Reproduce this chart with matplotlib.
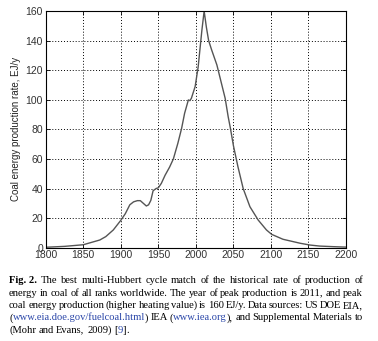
import matplotlib
matplotlib.use('Agg')
import matplotlib.pyplot as plt

# coal energy production, EJ/y (history + multi-Hubbert fit)
years = [1800, 1825, 1850, 1872, 1880, 1890, 1900, 1906, 1912, 1917, 1922, 1926,
         1930, 1934, 1937, 1940, 1943, 1947, 1950, 1954, 1959, 1965, 1970, 1976,
         1981, 1985, 1990, 1992, 1994, 1999, 2003, 2008, 2011, 2014, 2017, 2021,
         2028, 2034, 2039, 2043, 2046, 2050, 2056, 2063, 2072, 2083, 2094, 2101,
         2116, 2139, 2152, 2165, 2183, 2200]
rate = [0.3, 0.9, 2.0, 5.2, 7.5, 12, 18.5, 23, 29, 31, 31.8, 31.8,
        30, 28.2, 29, 32, 38.5, 40, 40.5, 43.5, 49, 54.5, 60, 70.6,
        80.7, 90.9, 99.9, 99.4, 101, 108.9, 122, 147, 160, 149, 140, 133.7,
        123.5, 111.2, 101, 88.6, 80.7, 69, 54.8, 40, 27.7, 18.7, 12, 9,
        5.7, 3, 1.8, 1.1, 0.7, 0.4]

xticks = list(range(1800, 2201, 50))
yticks = list(range(0, 161, 20))

blue = '#2a46a8'
caption = [
    [('Fig. 2.', 'k', 'bold'), ('The', 'k', 'normal'), ('best', 'k', 'normal'),
     ('multi-Hubbert', 'k', 'normal'), ('cycle', 'k', 'normal'), ('match', 'k', 'normal'),
     ('of', 'k', 'normal'), ('the', 'k', 'normal'), ('historical', 'k', 'normal'),
     ('rate', 'k', 'normal'), ('of', 'k', 'normal'), ('production', 'k', 'normal'),
     ('of', 'k', 'normal')],
    [(w, 'k', 'normal') for w in 'energy in coal of all ranks worldwide. The year of peak production is 2011, and peak'.split()],
    [(w, 'k', 'normal') for w in 'coal energy production (higher heating value) is 160 EJ/y. Data sources: US DOE EIA,'.split()],
    [('(', 'k', 'normal', True), ('www.eia.doe.gov/fuelcoal.html', blue, 'normal', True), (')', 'k', 'normal'),
     ('IEA', 'k', 'normal'), ('(', 'k', 'normal', True), ('www.iea.org', blue, 'normal', True),
     ('),', 'k', 'normal'), ('and', 'k', 'normal'), ('Supplemental', 'k', 'normal'),
     ('Materials', 'k', 'normal'), ('to', 'k', 'normal')],
    [('(Mohr', 'k', 'normal'), ('and', 'k', 'normal'), ('Evans,', 'k', 'normal'),
     ('2009)', 'k', 'normal'), ('[', 'k', 'normal', True), ('9', blue, 'normal', True), (']', 'k', 'normal', True), ('.', 'k', 'normal', True)],
]

fig = plt.figure(figsize=(3.78, 3.41), dpi=100)
ax = fig.add_axes([0.121, 0.2736, 0.7944, 0.6941])
ax.plot(years, rate, color='#555555', lw=1.0)
ax.set_xlim(1800, 2200)
ax.set_ylim(0, 160)
ax.set_xticks(xticks)
ax.set_yticks(yticks)
ax.grid(True, ls=(0, (1, 2)), color='k', lw=0.7)
ax.tick_params(direction='in', length=3, width=0.6, labelsize=7.5, top=True, right=True, pad=2,
               labelcolor='#333333')
for lab in ax.get_xticklabels() + ax.get_yticklabels():
    lab.set_family('Liberation Sans')
for s in ax.spines.values():
    s.set_linewidth(0.8)
ax.set_ylabel('Coal energy production rate, EJ/y', fontsize=7, family='Liberation Sans',
              labelpad=3, color='#222222')

# justified caption, word by word, on a common baseline
r = fig.canvas.get_renderer()
W, H = fig.bbox.width, fig.bbox.height
x0, x1 = 9, 363
ys = [283, 295.5, 308, 320.3, 332.6]
space = 2.5
for i, line in enumerate(caption):
    items = []
    for w in line:
        t = fig.text(0, 0, w[0], color=w[1], weight=w[2], fontsize=7.6,
                     family='Liberation Serif', va='baseline', ha='left')
        wd = t.get_window_extent(r).width
        glue = len(w) > 3 and w[3]
        items.append((t, wd, glue))
    # words glued to the next one get no gap
    gaps = sum(1 for k in range(len(items) - 1) if not items[k][2])
    total = sum(it[1] for it in items)
    gap = space if i == len(caption) - 1 else (x1 - x0 - total) / max(gaps, 1)
    x = x0
    for k, (t, wd, glue) in enumerate(items):
        t.set_position((x / W, 1 - ys[i] / H))
        x += wd
        if not glue:
            x += gap

fig.savefig('out.png', dpi=100)
